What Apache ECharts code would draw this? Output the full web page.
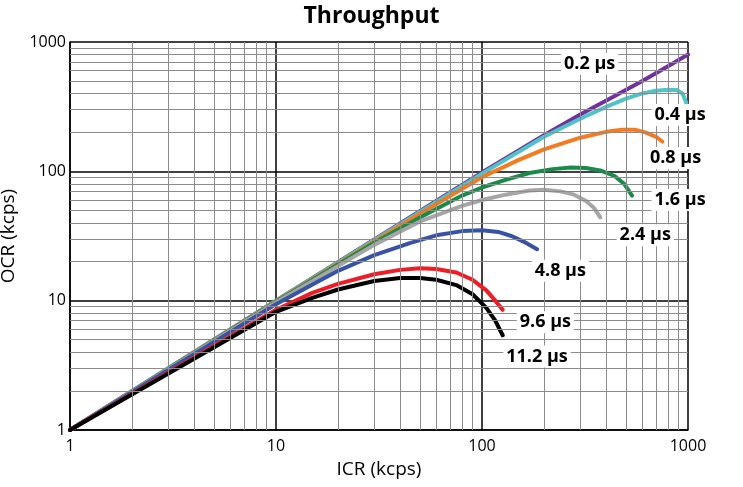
<!DOCTYPE html>
<html>
<head>
<meta charset="utf-8">
<script src="https://cdn.jsdelivr.net/npm/echarts@6/dist/echarts.min.js"></script>
<style>html,body{margin:0;padding:0;background:#fff}#chart{width:743px;height:487px}</style>
</head>
<body>
<div id="chart"></div>
<script>
// 数据
var deadTimes = ["0.2 µs", "0.4 µs", "0.8 µs", "1.6 µs", "2.4 µs", "4.8 µs", "9.6 µs", "11.2 µs"];
var colors = ["#7030a0", "#4fc3c8", "#f47b20", "#1a8a4a", "#a6a6a6", "#3853a4", "#ee1c25", "#000000"];
var s02 = [[1,1],[10,10],[100,98],[200,190],[300,275],[450,390],[600,500],[800,650],[1000,800]];
var s04 = [[1,1],[10,10],[100,96],[200,185],[300,255],[400,315],[500,365],[600,400],[700,420],[800,428],[880,425],[940,400],[980,340],[1000,290]];
var s08 = [[1,1],[10,9.9],[50,47],[100,90],[150,122],[200,148],[300,182],[400,202],[480,210],[550,210],[620,200],[700,185],[750,170]];
var s16 = [[1,1],[10,9.8],[30,28],[50,44],[80,65],[100,75],[130,86],[170,97],[220,104],[270,107],[320,106],[380,101],[440,92],[490,80],[535,65]];
var s24 = [[1,1],[10,9.7],[30,27],[50,41],[80,54],[100,60],[130,66],[170,71],[200,72],[240,70],[280,66],[320,59],[350,52],[375,44]];
var s48 = [[1,1],[10,9.4],[20,17],[30,22.5],[45,28],[60,32],[80,34.5],[100,35],[120,34],[140,31.5],[160,28.5],[185,25]];
var s96 = [[1,1],[10,8.5],[15,11.5],[20,13.5],[30,16],[40,17.3],[50,17.8],[60,17.6],[75,16.5],[90,14.5],[105,12],[116,10],[126,8.5]];
var s112 = [[1,1],[10,8.2],[15,10.5],[20,12.2],[30,14.2],[40,15],[50,15],[60,14.5],[75,13.2],[90,11.2],[105,8.8],[116,7],[126,5.4]];
var allSeries = [s02, s04, s08, s16, s24, s48, s96, s112];
// 标签位置
var labelPos = [[333,680],[915,273],[870,127],[915,60],[620,32],[240,17],[203,6.8],[185,3.7]];
// 次网格线
var minorVals = [];
[1,10,100].forEach(function(d){ for(var k=2;k<=9;k++) minorVals.push(d*k); });

var chart = echarts.init(document.getElementById("chart"));
var series = [];
// 网格线
series.push({
    type: "line", data: [], silent: true, z: 1,
    markLine: {
        symbol: "none", silent: true, label: {show: false},
        lineStyle: {color: "#8c8c8c", width: 1, type: "solid"},
        data: minorVals.map(function(v){ return {xAxis: v}; })
            .concat(minorVals.map(function(v){ return {yAxis: v}; }))
    }
});
allSeries.forEach(function(d, i){
    series.push({
        name: deadTimes[i], type: "line", data: d, smooth: false,
        showSymbol: false, z: 3,
        lineStyle: {color: colors[i], width: 4, join: "round", cap: "round"},
        markPoint: {
            symbol: "rect", symbolSize: 1, silent: true,
            itemStyle: {color: "rgba(0,0,0,0)"},
            label: {
                show: true, formatter: deadTimes[i], position: "inside",
                color: "#000", fontSize: 18, fontWeight: "bold",
                fontFamily: "Open Sans", backgroundColor: "#fff", padding: [2, 3]
            },
            data: [{coord: labelPos[i]}]
        }
    });
});

chart.setOption({
    animation: false,
    title: {text: "Throughput", left: "center", top: 0,
        textStyle: {fontSize: 23, fontWeight: "bold", fontFamily: "Open Sans", color: "#000"}},
    grid: {left: 70, right: 55, top: 42, bottom: 57, outerBoundsMode: "none"},
    xAxis: {
        type: "log", min: 1, max: 1000, logBase: 10,
        name: "ICR (kcps)", nameLocation: "middle", nameGap: 30,
        nameTextStyle: {fontSize: 19, color: "#000", fontFamily: "Open Sans"},
        axisLine: {lineStyle: {color: "#000", width: 1.5}},
        axisTick: {show: false},
        axisLabel: {fontSize: 16, color: "#000", fontFamily: "Open Sans", margin: 8,
            formatter: function(v){ return String(Math.round(v)); }},
        splitLine: {show: true, lineStyle: {color: "#000", width: 1.5}}
    },
    yAxis: {
        type: "log", min: 1, max: 1000, logBase: 10,
        name: "OCR (kcps)", nameLocation: "middle", nameGap: 42,
        nameTextStyle: {fontSize: 19, color: "#000", fontFamily: "Open Sans"},
        axisLine: {show: true, lineStyle: {color: "#000", width: 1.5}},
        axisTick: {show: false},
        axisLabel: {fontSize: 16, color: "#000", fontFamily: "Open Sans", margin: 4,
            formatter: function(v){ return String(Math.round(v)); }},
        splitLine: {show: true, lineStyle: {color: "#000", width: 1.5}}
    },
    series: series
});
</script>
</body>
</html>
